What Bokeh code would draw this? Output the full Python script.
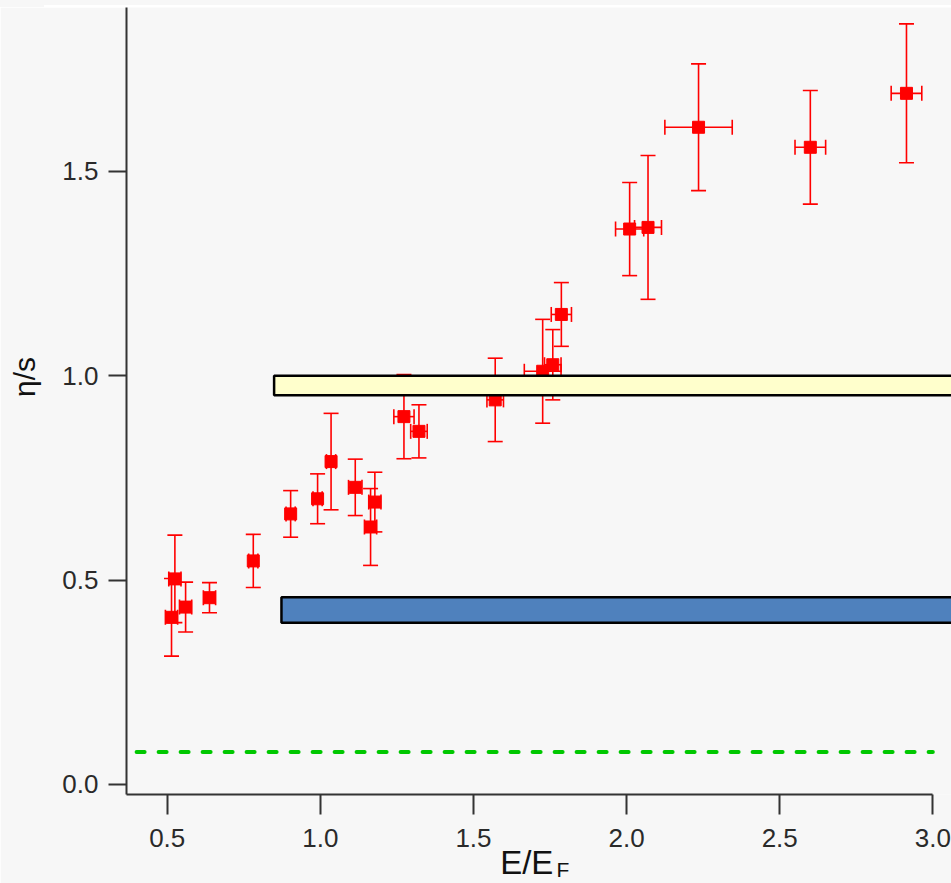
import math

from bokeh.embed import file_html
from bokeh.layouts import column
from bokeh.models import (ColumnDataSource, Div, FixedTicker, LinearAxis,
                          NumeralTickFormatter, Range1d, TeeHead, Whisker)
from bokeh.plotting import figure
from bokeh.resources import INLINE

# Shear viscosity to entropy ratio versus energy (in units of E_F)
energy = [0.514, 0.525, 0.560, 0.638, 0.781, 0.903, 0.991, 1.035, 1.114, 1.164, 1.178,
          1.273, 1.322, 1.571, 1.726, 1.759, 1.787, 2.010, 2.070, 2.235, 2.600, 2.914]
eta_s = [0.409, 0.503, 0.434, 0.457, 0.547, 0.662, 0.699, 0.790, 0.727, 0.630, 0.691,
         0.900, 0.864, 0.941, 1.011, 1.027, 1.150, 1.359, 1.363, 1.608, 1.559, 1.691]
eta_s_err = [0.095, 0.107, 0.061, 0.037, 0.065, 0.057, 0.061, 0.118, 0.069, 0.094, 0.073,
             0.103, 0.065, 0.102, 0.127, 0.086, 0.078, 0.114, 0.176, 0.155, 0.139, 0.170]
energy_err = [0.020, 0.020, 0.020, 0.020, 0.015, 0.015, 0.015, 0.015, 0.022, 0.020, 0.020,
              0.033, 0.027, 0.027, 0.060, 0.027, 0.033, 0.046, 0.044, 0.110, 0.050, 0.050]

# Reference bands (E/E_F start, eta/s low, eta/s high)
upper_band = (0.849, 0.9525, 1.000)
lower_band = (0.873, 0.396, 0.458)
band_end = 3.3

# KSS bound 1/(4 pi)
kss_bound = 1.0 / (4.0 * math.pi)
kss_span = [0.40, 3.00]

x_ticks = [0.5, 1.0, 1.5, 2.0, 2.5, 3.0]
y_ticks = [0.0, 0.5, 1.0, 1.5]

# Axis titles and where they sit along their axes
y_title, y_title_at = "η/s", 0.997
x_title, x_title_at = "E/E", 1.674
x_title_sub, x_title_sub_at = "F", 1.792

FONT = "Liberation Sans"
BG = "#f7f7f7"
AXIS = "#333333"

src = ColumnDataSource(dict(
    x=energy,
    y=eta_s,
    y_hi=[v + e for v, e in zip(eta_s, eta_s_err)],
    y_lo=[v - e for v, e in zip(eta_s, eta_s_err)],
    x_hi=[v + e for v, e in zip(energy, energy_err)],
    x_lo=[v - e for v, e in zip(energy, energy_err)],
))

p = figure(width=951, height=876, output_backend="svg", toolbar_location=None,
           x_range=Range1d(0.367, 3.061), y_range=Range1d(-0.0245, 1.901),
           min_border_left=126, min_border_right=0, min_border_top=0,
           min_border_bottom=89)
p.background_fill_color = BG
p.border_fill_color = BG
p.outline_line_color = None
p.xgrid.visible = False
p.ygrid.visible = False

# Main axes
for ax in (p.xaxis[0], p.yaxis[0]):
    ax.axis_line_color = AXIS
    ax.axis_line_width = 2
    ax.major_tick_line_color = AXIS
    ax.major_tick_line_width = 2
    ax.major_tick_in = 0
    ax.minor_tick_line_color = None
    ax.major_label_text_font = FONT
    ax.major_label_text_font_size = "26px"
    ax.major_label_text_color = "#2a2a2a"
    ax.formatter = NumeralTickFormatter(format="0.0")

p.xaxis.ticker = FixedTicker(ticks=x_ticks)
p.yaxis.ticker = FixedTicker(ticks=y_ticks)
p.xaxis.major_tick_out = 20
p.xaxis.major_label_standoff = 14
p.xaxis.bounds = (0.367, 3.0)
p.yaxis.major_tick_out = 18
p.yaxis.major_label_standoff = 10


def title_axis(at, text, size, standoff, **kw):
    """A bare axis whose single tick label serves as a title."""
    ax = LinearAxis(ticker=FixedTicker(ticks=[at], minor_ticks=[]),
                    major_label_overrides={at: text},
                    axis_line_color=None, major_tick_line_color=None,
                    minor_tick_line_color=None, major_tick_out=0, major_tick_in=0,
                    minor_tick_out=0, minor_tick_in=0,
                    major_label_standoff=standoff,
                    major_label_text_font=FONT, major_label_text_font_size=size,
                    major_label_text_color="#111111", **kw)
    return ax


p.add_layout(title_axis(y_title_at, y_title, "30px", 18,
                        major_label_orientation="parallel"), "left")
# subscript first, then the main part of the x title pulled back up over it
p.add_layout(title_axis(x_title_sub_at, x_title_sub, "21px", 8), "below")
p.add_layout(title_axis(x_title_at, x_title, "33px", -40), "below")

# KSS bound line
p.line(kss_span, [kss_bound, kss_bound], line_color="#00c800", line_width=4,
       line_dash="8 14", line_cap="round")

# Error bars
head = dict(size=15, line_color="red", line_width=1.6)
p.add_layout(Whisker(source=src, base="x", upper="y_hi", lower="y_lo", dimension="height",
                     line_color="red", line_width=1.6, level="underlay",
                     upper_head=TeeHead(**head), lower_head=TeeHead(**head)))
p.add_layout(Whisker(source=src, base="y", upper="x_hi", lower="x_lo", dimension="width",
                     line_color="red", line_width=1.6, level="underlay",
                     upper_head=TeeHead(**head), lower_head=TeeHead(**head)))

p.scatter("x", "y", source=src, marker="square", size=12, fill_color="red",
          line_color="red")

# Bands drawn over the data
p.quad(left=[upper_band[0]], right=[band_end], bottom=[upper_band[1]], top=[upper_band[2]],
       fill_color="#ffffcc", line_color="black", line_width=2.5)
p.quad(left=[lower_band[0]], right=[band_end], bottom=[lower_band[1]], top=[lower_band[2]],
       fill_color="#4f81bd", line_color="black", line_width=2.5)

strip = Div(text='<div style="margin-left:44px;width:907px;height:7px;background:#ffffff"></div>',
            width=951, height=7, margin=0, styles={"background-color": BG})

layout = column(strip, p, spacing=0)

open("out.html", "w").write(file_html(layout, INLINE))
